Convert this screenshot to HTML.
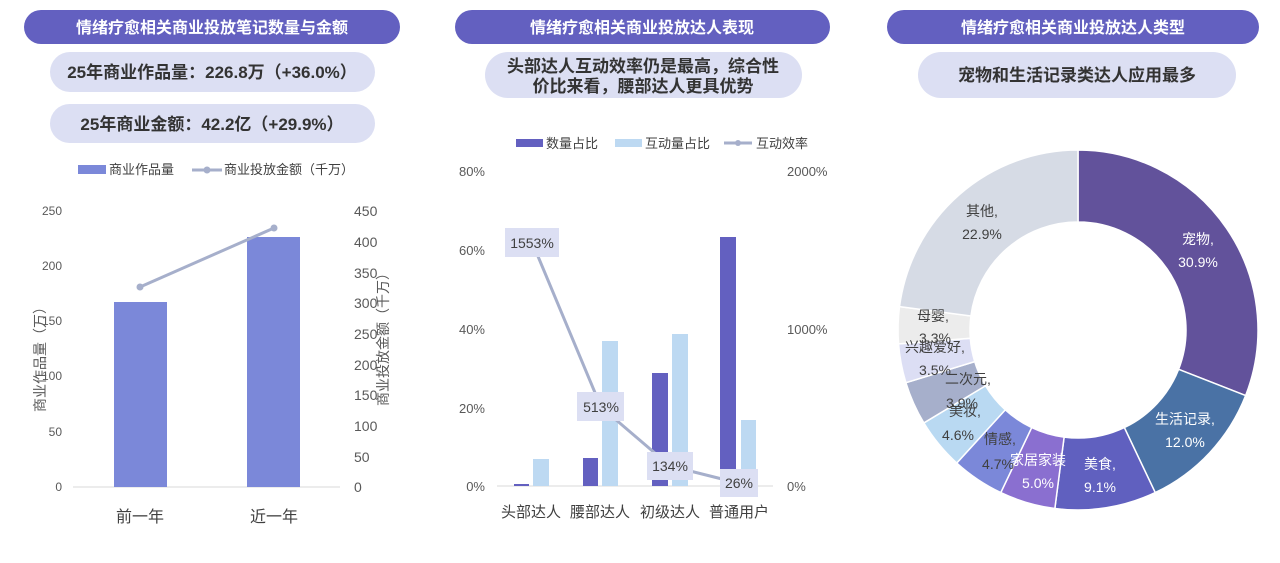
<!DOCTYPE html>
<html><head><meta charset="utf-8"><style>
body{margin:0;background:#fff;width:1280px;height:563px;overflow:hidden}
svg{display:block;font-family:"Liberation Sans","Noto Sans CJK SC",sans-serif}
.h{fill:#fff;font-weight:bold;font-size:16px}
.s{fill:#333;font-weight:bold;font-size:16px}
.t{fill:#595959;font-size:12px}
.lg{fill:#404040;font-size:13px}
.cat{fill:#404040;font-size:16px}
.d{font-size:14px}
</style></head><body>
<svg width="1280" height="563" viewBox="0 0 1280 563" xmlns="http://www.w3.org/2000/svg">
<rect x="24" y="10" width="376" height="34" rx="17" fill="#6360c0"/>
<text x="212" y="33" text-anchor="middle" class="h">情绪疗愈相关商业投放笔记数量与金额</text>
<rect x="455" y="10" width="375" height="34" rx="17" fill="#6360c0"/>
<text x="642" y="33" text-anchor="middle" class="h">情绪疗愈相关商业投放达人表现</text>
<rect x="887" y="10" width="372" height="34" rx="17" fill="#6360c0"/>
<text x="1073" y="33" text-anchor="middle" class="h">情绪疗愈相关商业投放达人类型</text>
<rect x="50" y="52" width="325" height="40" rx="20" fill="#dcdff3"/>
<text x="212" y="78" text-anchor="middle" class="s" style="font-size:17px">25年商业作品量：226.8万（+36.0%）</text>
<rect x="50" y="104" width="325" height="39" rx="19.5" fill="#dcdff3"/>
<text x="212" y="130" text-anchor="middle" class="s" style="font-size:17px">25年商业金额：42.2亿（+29.9%）</text>
<rect x="485" y="52" width="317" height="46" rx="23" fill="#dcdff3"/>
<text x="643" y="72" text-anchor="middle" class="s" style="font-size:17px">头部达人互动效率仍是最高，综合性</text>
<text x="643" y="92" text-anchor="middle" class="s" style="font-size:17px">价比来看，腰部达人更具优势</text>
<rect x="918" y="52" width="318" height="46" rx="23" fill="#dcdff3"/>
<text x="1077" y="81" text-anchor="middle" class="s" style="font-size:17px">宠物和生活记录类达人应用最多</text>

<rect x="78" y="165" width="28" height="9" fill="#7b88d9"/>
<text x="109" y="174" class="lg">商业作品量</text>
<line x1="192" y1="170" x2="222" y2="170" stroke="#a6afcb" stroke-width="3"/>
<circle cx="207" cy="170" r="3.5" fill="#a6afcb"/>
<text x="224" y="174" class="lg">商业投放金额（千万）</text>
<line x1="73" y1="487" x2="340" y2="487" stroke="#d9d9d9"/>
<g class="t" text-anchor="end">
<text x="62" y="215">250</text><text x="62" y="270">200</text><text x="62" y="325">150</text>
<text x="62" y="380">100</text><text x="62" y="436">50</text><text x="62" y="491">0</text>
</g>
<g class="t" text-anchor="start" style="font-size:14px">
<text x="354" y="216">450</text><text x="354" y="247">400</text><text x="354" y="278">350</text>
<text x="354" y="308">300</text><text x="354" y="339">250</text><text x="354" y="370">200</text>
<text x="354" y="400">150</text><text x="354" y="431">100</text><text x="354" y="462">50</text><text x="354" y="492">0</text>
</g>
<text transform="translate(45,356) rotate(-90)" text-anchor="middle" class="lg" style="font-size:14px;fill:#595959">商业作品量（万）</text>
<text transform="translate(388,336) rotate(-90)" text-anchor="middle" class="lg" style="font-size:14px;fill:#595959">商业投放金额（千万）</text>
<rect x="114" y="302" width="53" height="185" fill="#7b88d9"/>
<rect x="247" y="237" width="53" height="250" fill="#7b88d9"/>
<line x1="140" y1="287" x2="274" y2="228" stroke="#a6afcb" stroke-width="3"/>
<circle cx="140" cy="287" r="3.5" fill="#a6afcb"/><circle cx="274" cy="228" r="3.5" fill="#a6afcb"/>
<text x="140" y="522" text-anchor="middle" class="cat">前一年</text>
<text x="274" y="522" text-anchor="middle" class="cat">近一年</text>

<rect x="516" y="139" width="27" height="8" fill="#6360c0"/>
<text x="546" y="148" class="lg">数量占比</text>
<rect x="615" y="139" width="27" height="8" fill="#bdd9f2"/>
<text x="645" y="148" class="lg">互动量占比</text>
<line x1="724" y1="143" x2="752" y2="143" stroke="#a6afcb" stroke-width="3"/>
<circle cx="738" cy="143" r="3" fill="#a6afcb"/>
<text x="756" y="148" class="lg">互动效率</text>
<g class="t" text-anchor="end" style="font-size:13px">
<text x="485" y="176">80%</text><text x="485" y="255">60%</text><text x="485" y="334">40%</text>
<text x="485" y="413">20%</text><text x="485" y="491">0%</text>
</g>
<g class="t" text-anchor="start" style="font-size:13px">
<text x="787" y="176">2000%</text><text x="787" y="334">1000%</text><text x="787" y="491">0%</text>
</g>
<line x1="497" y1="486" x2="773" y2="486" stroke="#d9d9d9"/>
<g fill="#6360c0">
<rect x="514" y="484" width="15" height="2"/>
<rect x="583" y="458" width="15" height="28"/>
<rect x="652" y="373" width="16" height="113"/>
<rect x="720" y="237" width="16" height="249"/>
</g>
<g fill="#bdd9f2">
<rect x="533" y="459" width="16" height="27"/>
<rect x="602" y="341" width="16" height="145"/>
<rect x="672" y="334" width="16" height="152"/>
<rect x="741" y="420" width="15" height="66"/>
</g>
<polyline points="532,242 601,407 670,466 738,483" fill="none" stroke="#a6afcb" stroke-width="3"/>
<g fill="#dcdff3">
<rect x="505" y="228" width="54" height="29"/>
<rect x="577" y="392" width="47" height="29"/>
<rect x="647" y="452" width="46" height="28"/>
<rect x="720" y="469" width="38" height="28"/>
</g>
<g class="d" fill="#404040" text-anchor="middle">
<text x="532" y="248">1553%</text><text x="601" y="412">513%</text>
<text x="670" y="471">134%</text><text x="739" y="488">26%</text>
</g>
<g class="cat" text-anchor="middle" style="font-size:15px">
<text x="531" y="517">头部达人</text><text x="600" y="517">腰部达人</text>
<text x="670" y="517">初级达人</text><text x="739" y="517">普通用户</text>
</g>

<g id="donut"></g>
<g class="d" text-anchor="middle">
<g fill="#fff">
<text x="1198" y="244">宠物,</text><text x="1198" y="267">30.9%</text>
<text x="1185" y="424">生活记录,</text><text x="1185" y="447">12.0%</text>
<text x="1100" y="469">美食,</text><text x="1100" y="492">9.1%</text>
<text x="1038" y="465">家居家装</text><text x="1038" y="488">5.0%</text>
</g>
<g fill="#404040">
<text x="1000" y="444">情感,</text><text x="998" y="469">4.7%</text>
<text x="965" y="416">美妆,</text><text x="958" y="440">4.6%</text>
<text x="968" y="384">二次元,</text><text x="962" y="408">3.9%</text>
<text x="935" y="352">兴趣爱好,</text><text x="935" y="375">3.5%</text>
<text x="933" y="321">母婴,</text><text x="935" y="343">3.3%</text>
<text x="982" y="216">其他,</text><text x="982" y="239">22.9%</text>
</g>
</g>
</svg>
<script>
(function(){
var d=[[30.9,"#62529b"],[12.0,"#4a72a5"],[9.1,"#6060bf"],[5.0,"#8a6fd0"],[4.7,"#7b88d9"],[4.6,"#b9d9f2"],[3.9,"#a6afcb"],[3.5,"#dcdef4"],[3.3,"#ececec"],[22.9,"#d6dbe5"]];
var cx=1078,cy=330,R=180,r=108,tot=99.9,a=0,s="";
function p(rad,ang){return (cx+rad*Math.sin(ang)).toFixed(2)+","+(cy-rad*Math.cos(ang)).toFixed(2);}
d.forEach(function(e){var a0=a/tot*2*Math.PI;a+=e[0];var a1=a/tot*2*Math.PI;var l=(a1-a0)>Math.PI?1:0;
s+='<path d="M'+p(R,a0)+' A'+R+','+R+' 0 '+l+' 1 '+p(R,a1)+' L'+p(r,a1)+' A'+r+','+r+' 0 '+l+' 0 '+p(r,a0)+' Z" fill="'+e[1]+'" stroke="#fff" stroke-width="1.5"/>';});
document.getElementById("donut").innerHTML=s;
})();
</script>
</body></html>
